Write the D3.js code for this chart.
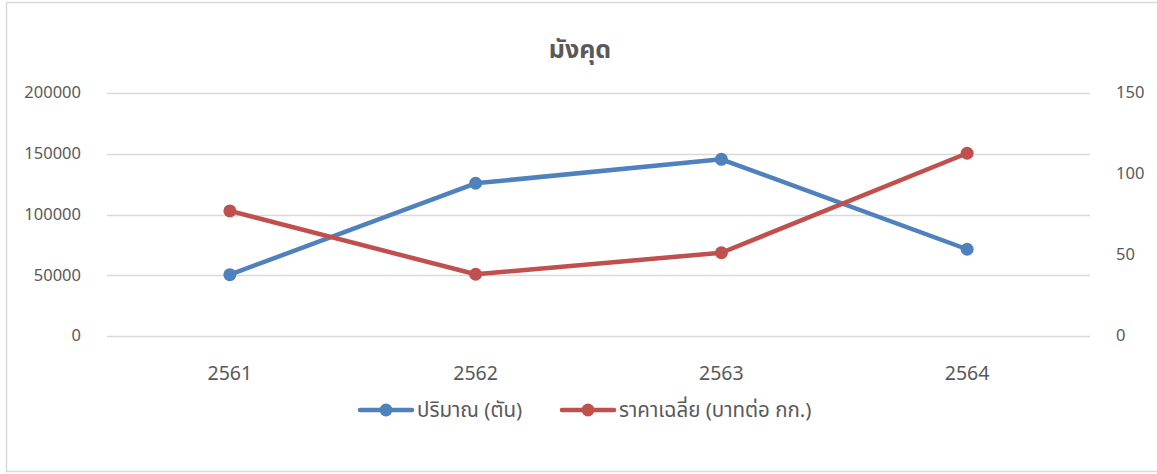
<!DOCTYPE html>
<html><head><meta charset="utf-8">
<script src="https://cdn.jsdelivr.net/npm/d3@7"></script>
<style>body{margin:0;background:#fff;} svg{display:block;} text{font-family:"Noto Sans Thai","Leelawadee UI",Tahoma,"Noto Sans","DejaVu Sans",sans-serif;}</style>
</head><body>
<svg id="c" width="1157" height="474"></svg>
<script>
const title = "มังคุด";
const years = ["2561","2562","2563","2564"];
const quantity = [50500, 125700, 145400, 71400];
const price = [77.2, 38.1, 51.4, 112.8];
const leftTicks = [0, 50000, 100000, 150000, 200000];
const rightTicks = [0, 50, 100, 150];
const seriesNames = ["ปริมาณ (ตัน)", "ราคาเฉลี่ย (บาทต่อ กก.)"];
const colors = ["#4f81bd", "#c0504d"];

const svg = d3.select("#c");
svg.append("rect").attr("x",6.5).attr("y",2.5).attr("width",1170).attr("height",469)
  .attr("fill","#fff").attr("stroke","#d9d9d9").attr("stroke-width",1.5);

const L=107, R=1090, T=93, B=336;
const x = d3.scaleBand().domain(years).range([L,R]);
const yL = d3.scaleLinear().domain([0,200000]).range([B,T]);
const yR = d3.scaleLinear().domain([0,150]).range([B,T]);

svg.append("text").attr("x",580).attr("y",58).attr("text-anchor","middle")
  .attr("font-size",25).attr("font-weight","bold").attr("fill","#595959").text(title);

// gridlines
svg.append("g").selectAll("line").data(leftTicks).join("line")
  .attr("x1",L).attr("x2",R).attr("y1",d=>Math.round(yL(d))+0.5).attr("y2",d=>Math.round(yL(d))+0.5)
  .attr("stroke","#d9d9d9").attr("stroke-width",1.5);

// left axis
const gl = svg.append("g").attr("transform",`translate(${L},0)`)
  .call(d3.axisLeft(yL).tickValues(leftTicks).tickFormat(d3.format("d")).tickSize(0).tickPadding(26));
gl.select(".domain").remove();
gl.selectAll("text").attr("font-size",16.5).attr("fill","#595959").attr("dy","0.3em");

// right axis
const gr = svg.append("g").attr("transform",`translate(${R},0)`)
  .call(d3.axisRight(yR).tickValues(rightTicks).tickFormat(d3.format("d")).tickSize(0).tickPadding(26));
gr.select(".domain").remove();
gr.selectAll("text").attr("font-size",16.5).attr("fill","#595959").attr("dy","0.3em");

// x axis
const gx = svg.append("g").attr("transform",`translate(0,${B})`)
  .call(d3.axisBottom(x).tickSize(0).tickPadding(30));
gx.select(".domain").remove();
gx.selectAll("text").attr("font-size",19.5).attr("fill","#595959");

const cx = d => x(d) + x.bandwidth()/2;
const series = [
  {vals: quantity, y: yL, color: colors[0]},
  {vals: price, y: yR, color: colors[1]}
];
series.forEach(s=>{
  const line = d3.line().x((d,i)=>cx(years[i])).y(d=>s.y(d));
  svg.append("path").datum(s.vals).attr("d",line).attr("fill","none")
    .attr("stroke",s.color).attr("stroke-width",4.5).attr("stroke-linejoin","round").attr("stroke-linecap","round");
  svg.append("g").selectAll("circle").data(s.vals).join("circle")
    .attr("cx",(d,i)=>cx(years[i])).attr("cy",d=>s.y(d)).attr("r",6.5).attr("fill",s.color);
});

// legend
const leg = [{x0:360, name:seriesNames[0], color:colors[0]},{x0:562, name:seriesNames[1], color:colors[1]}];
leg.forEach(l=>{
  const g = svg.append("g");
  g.append("line").attr("x1",l.x0).attr("x2",l.x0+52).attr("y1",410).attr("y2",410)
    .attr("stroke",l.color).attr("stroke-width",4.5).attr("stroke-linecap","round");
  g.append("circle").attr("cx",l.x0+26).attr("cy",410).attr("r",6.5).attr("fill",l.color);
  g.append("text").attr("x",l.x0+57).attr("y",417).attr("font-size",20.5).attr("fill","#595959").text(l.name);
});
</script>
</body></html>
